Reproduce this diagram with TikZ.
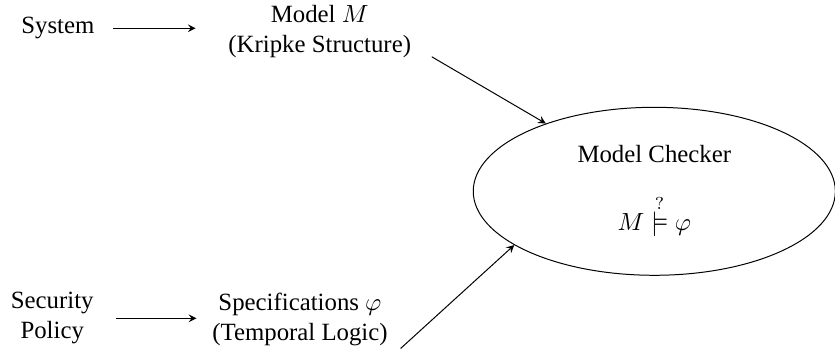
\documentclass[tikz,border=0pt]{standalone}
\usepackage{amsmath, amssymb}
\usepackage{fontspec}
\setmainfont{Liberation Serif}
\usetikzlibrary{shapes.geometric}
\usetikzlibrary{arrows}

\begin{document}
\begin{tikzpicture}
\useasboundingbox (0,0) rectangle (11.83,-5.04);
\node(sys) at (0.82,-0.40){System};
\node(model)[align=center] at (4.53,-0.45){Model $M$ \\ (Kripke Structure)};
\node(mc)[draw,ellipse,minimum width=5.13cm,minimum height=2.38cm,align=center] at (9.27,-2.71){Model Checker \\[12pt] $M \stackrel{\raisebox{-3pt}{$\scriptstyle ?$}}{\models} \varphi$}; %%% THE CHECKER %%%
\node(pol)[align=center] at (0.74,-4.51){Security \\ Policy};
\node(spec)[align=center] at (4.25,-4.53){Specifications $\varphi$ \\ (Temporal Logic)};
\draw[-stealth,shorten <=0.14cm,shorten >=0.34cm] (sys) -- (sys -| model.west);
\draw[-stealth,shorten <=0.2cm,shorten >=0.1cm] (pol) -- (pol -| spec.west);
\draw[-stealth] ([xshift=0.17cm,yshift=0.14cm]model.south east) -- (mc.148);
\draw[-stealth] ([xshift=0.06cm,yshift=0.09cm]spec.south east) -- (mc.201);
\end{tikzpicture}
\end{document}
